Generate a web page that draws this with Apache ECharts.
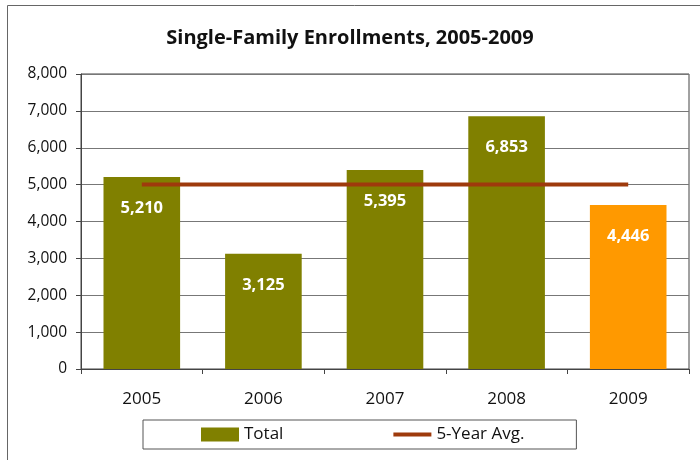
<!DOCTYPE html>
<html>
<head>
<meta charset="utf-8">
<script src="https://cdn.jsdelivr.net/npm/echarts@6/dist/echarts.min.js"></script>
<style>
  html, body { margin: 0; padding: 0; background: #fff; }
  #chart { width: 700px; height: 460px; }
</style>
</head>
<body>
<div id="chart"></div>
<script>
// data
const years = ['2005', '2006', '2007', '2008', '2009']
const totals = [5210, 3125, 5395, 6853, 4446]
const avgValue = 5006
const yTicks = [0, 1000, 2000, 3000, 4000, 5000, 6000, 7000, 8000]

const FONT = '"Open Sans", "DejaVu Sans", sans-serif'

let chart = echarts.init(document.getElementById('chart'))

let barData = totals.map(function (v, i) {
  return {
    value: v,
    itemStyle: { color: i === totals.length - 1 ? '#FF9900' : '#808000' }
  }
})

let option = {
  backgroundColor: '#fff',
  animation: false,
  title: {
    text: 'Single-Family Enrollments, 2005-2009',
    left: 'center',
    top: 23,
    textStyle: { fontFamily: FONT, fontSize: 20, fontWeight: 'bold', color: '#111' }
  },
  grid: {
    left: 81,
    right: 11,
    top: 74,
    bottom: 91,
    show: true,
    borderColor: '#444',
    borderWidth: 1
  },
  legend: {
    left: 143,
    top: 420,
    padding: [6, 52, 6, 58],
    borderColor: '#555',
    borderWidth: 1,
    itemWidth: 38,
    itemHeight: 14,
    itemGap: 108,
    textStyle: { fontFamily: FONT, fontSize: 17, color: '#111' },
    data: [
      { name: 'Total', icon: 'rect', itemStyle: { color: '#808000' } },
      { name: '5-Year Avg.', itemStyle: { opacity: 0 }, lineStyle: { width: 4, color: '#9E3A0C' } }
    ]
  },
  xAxis: {
    type: 'category',
    data: years,
    axisLine: { lineStyle: { color: '#444' } },
    axisTick: { show: true, length: 5, lineStyle: { color: '#444' } },
    axisLabel: { margin: 22, fontFamily: FONT, fontSize: 17, color: '#111' }
  },
  yAxis: {
    type: 'value',
    min: yTicks[0],
    max: yTicks[yTicks.length - 1],
    interval: 1000,
    axisLine: { show: true, lineStyle: { color: '#444' } },
    axisTick: { show: true, length: 5, lineStyle: { color: '#444' } },
    splitLine: { lineStyle: { color: '#777', width: 1 } },
    axisLabel: {
      margin: 14,
      fontFamily: FONT,
      fontSize: 15.5,
      color: '#111',
      formatter: function (v) { return v.toLocaleString('en-US') }
    }
  },
  series: [
    {
      name: 'Total',
      type: 'bar',
      data: barData,
      barWidth: '63%',
      itemStyle: { color: '#808000' },
      label: {
        show: true,
        position: 'insideTop',
        distance: 23,
        color: '#fff',
        fontFamily: FONT,
        fontSize: 16.5,
        fontWeight: 'bold',
        formatter: function (p) { return p.value.toLocaleString('en-US') }
      }
    },
    {
      name: '5-Year Avg.',
      type: 'line',
      data: years.map(function () { return avgValue }),
      symbol: 'none',
      lineStyle: { color: '#9E3A0C', width: 4 },
      itemStyle: { color: '#9E3A0C' },
      z: 5
    }
  ],
  graphic: [
    {
      type: 'rect',
      shape: { x: 7.5, y: 5.5, width: 720, height: 480 },
      style: { fill: 'none', stroke: '#666', lineWidth: 1 },
      silent: true
    }
  ]
}

chart.setOption(option)
</script>
</body>
</html>
